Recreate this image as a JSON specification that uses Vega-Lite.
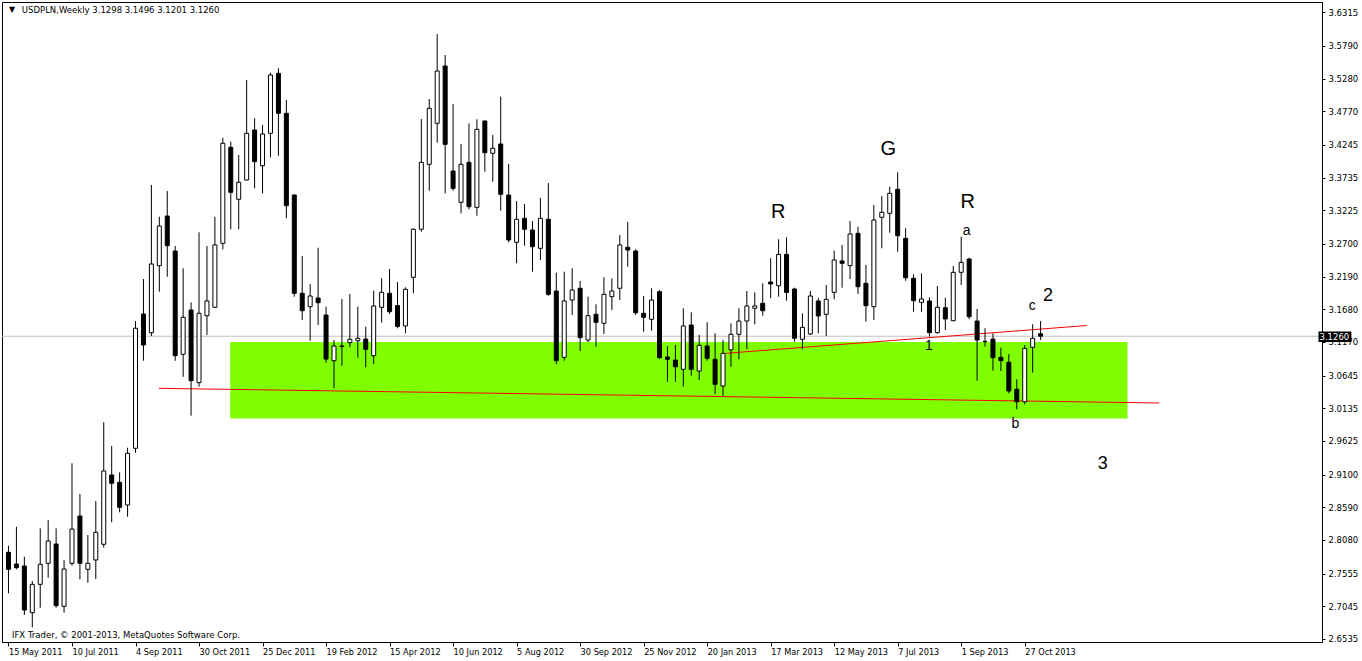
{
  "$schema": "https://vega.github.io/schema/vega-lite/v6.json",
  "width": 1320,
  "height": 640,
  "autosize": "none",
  "padding": {"left": 2, "top": 2, "right": 40, "bottom": 19},
  "background": "white",
  "config": {
    "view": {"stroke": "black", "strokeWidth": 1},
    "axis": {"labelFont": "DejaVu Sans", "labelFontSize": 8.5, "labelColor": "black", "tickColor": "black", "domainColor": "black", "grid": false, "labelOverlap": false, "labelBound": false, "labelFlush": false, "title": null},
    "axisX": {"labelAlign": "left", "labelBaseline": "top", "labelPadding": 2, "tickSize": 4, "labelFontSize": 8.2},
    "axisY": {"tickSize": 3, "labelPadding": 3}
  },
  "datasets": {
    "candles": [
      {"d":"2011-05-15","o":2.7888,"h":2.7991,"l":2.7248,"c":2.7622},
      {"d":"2011-05-22","o":2.7705,"h":2.8287,"l":2.7622,"c":2.7648},
      {"d":"2011-05-29","o":2.7674,"h":2.7819,"l":2.6909,"c":2.6987},
      {"d":"2011-06-05","o":2.6945,"h":2.7440,"l":2.6717,"c":2.7388},
      {"d":"2011-06-12","o":2.7388,"h":2.8262,"l":2.7023,"c":2.7701},
      {"d":"2011-06-19","o":2.7716,"h":2.8392,"l":2.7491,"c":2.8064},
      {"d":"2011-06-26","o":2.8017,"h":2.8262,"l":2.7023,"c":2.7055},
      {"d":"2011-07-03","o":2.7045,"h":2.7768,"l":2.6945,"c":2.7627},
      {"d":"2011-07-10","o":2.7716,"h":2.9277,"l":2.7679,"c":2.8251},
      {"d":"2011-07-17","o":2.8454,"h":2.8798,"l":2.7466,"c":2.7716},
      {"d":"2011-07-24","o":2.7622,"h":2.8158,"l":2.7414,"c":2.7716},
      {"d":"2011-07-31","o":2.7768,"h":2.8688,"l":2.7471,"c":2.8200},
      {"d":"2011-08-07","o":2.8013,"h":2.9917,"l":2.7960,"c":2.9157},
      {"d":"2011-08-14","o":2.9094,"h":2.9547,"l":2.8356,"c":2.8965},
      {"d":"2011-08-21","o":2.8980,"h":2.9136,"l":2.8512,"c":2.8590},
      {"d":"2011-08-28","o":2.8626,"h":2.9520,"l":2.8443,"c":2.9433},
      {"d":"2011-09-04","o":2.9511,"h":3.1497,"l":2.9442,"c":3.1384},
      {"d":"2011-09-11","o":3.1607,"h":3.2153,"l":3.0878,"c":3.1123},
      {"d":"2011-09-18","o":3.1315,"h":3.3620,"l":3.1263,"c":3.2387},
      {"d":"2011-09-25","o":3.2361,"h":3.3125,"l":3.1955,"c":3.2980},
      {"d":"2011-10-02","o":3.3136,"h":3.3526,"l":3.2189,"c":3.2673},
      {"d":"2011-10-09","o":3.2590,"h":3.2668,"l":3.0878,"c":3.0956},
      {"d":"2011-10-16","o":3.0978,"h":3.2320,"l":3.0628,"c":3.1555},
      {"d":"2011-10-23","o":3.1669,"h":3.1789,"l":3.0020,"c":3.0566},
      {"d":"2011-10-30","o":3.0535,"h":3.2882,"l":3.0472,"c":3.1618},
      {"d":"2011-11-06","o":3.1580,"h":3.2668,"l":3.1279,"c":3.1810},
      {"d":"2011-11-13","o":3.1711,"h":3.3125,"l":3.1700,"c":3.2684},
      {"d":"2011-11-20","o":3.2710,"h":3.4358,"l":3.2616,"c":3.4271},
      {"d":"2011-11-27","o":3.4208,"h":3.4296,"l":3.2929,"c":3.3506},
      {"d":"2011-12-04","o":3.3397,"h":3.4088,"l":3.2929,"c":3.3662},
      {"d":"2011-12-11","o":3.3698,"h":3.5259,"l":3.3690,"c":3.4427},
      {"d":"2011-12-18","o":3.4478,"h":3.4661,"l":3.3568,"c":3.3984},
      {"d":"2011-12-25","o":3.3921,"h":3.4556,"l":3.3490,"c":3.4416},
      {"d":"2012-01-01","o":3.4427,"h":3.5372,"l":3.4052,"c":3.5337},
      {"d":"2012-01-08","o":3.5363,"h":3.5441,"l":3.4077,"c":3.4739},
      {"d":"2012-01-15","o":3.4739,"h":3.4946,"l":3.3100,"c":3.3297},
      {"d":"2012-01-22","o":3.3464,"h":3.3470,"l":3.1877,"c":3.1930},
      {"d":"2012-01-29","o":3.1930,"h":3.2512,"l":3.1513,"c":3.1658},
      {"d":"2012-02-05","o":3.1721,"h":3.2075,"l":3.1190,"c":3.1888},
      {"d":"2012-02-12","o":3.1856,"h":3.2641,"l":3.1435,"c":3.1783},
      {"d":"2012-02-19","o":3.1591,"h":3.1721,"l":3.0847,"c":3.0904},
      {"d":"2012-02-26","o":3.0878,"h":3.1201,"l":3.0447,"c":3.1107},
      {"d":"2012-03-04","o":3.1100,"h":3.1841,"l":3.0800,"c":3.1107},
      {"d":"2012-03-11","o":3.1159,"h":3.1919,"l":3.1087,"c":3.1212},
      {"d":"2012-03-18","o":3.1190,"h":3.1721,"l":3.0925,"c":3.1227},
      {"d":"2012-03-25","o":3.1216,"h":3.1408,"l":3.0775,"c":3.1056},
      {"d":"2012-04-01","o":3.0956,"h":3.1970,"l":3.0826,"c":3.1732},
      {"d":"2012-04-08","o":3.1711,"h":3.2164,"l":3.1471,"c":3.1945},
      {"d":"2012-04-15","o":3.1930,"h":3.2309,"l":3.1607,"c":3.1643},
      {"d":"2012-04-22","o":3.1739,"h":3.2106,"l":3.1384,"c":3.1412},
      {"d":"2012-04-29","o":3.1420,"h":3.2023,"l":3.1305,"c":3.1992},
      {"d":"2012-05-06","o":3.2179,"h":3.2944,"l":3.1930,"c":3.2929},
      {"d":"2012-05-13","o":3.2929,"h":3.4650,"l":3.2891,"c":3.3974},
      {"d":"2012-05-20","o":3.3943,"h":3.4962,"l":3.3531,"c":3.4817},
      {"d":"2012-05-27","o":3.4583,"h":3.5976,"l":3.4280,"c":3.5399},
      {"d":"2012-06-03","o":3.5477,"h":3.5649,"l":3.3490,"c":3.4255},
      {"d":"2012-06-10","o":3.3838,"h":3.4884,"l":3.3531,"c":3.3568},
      {"d":"2012-06-17","o":3.3350,"h":3.4260,"l":3.3178,"c":3.3943},
      {"d":"2012-06-24","o":3.3974,"h":3.4583,"l":3.3241,"c":3.3281},
      {"d":"2012-07-01","o":3.3272,"h":3.4645,"l":3.3141,"c":3.4489},
      {"d":"2012-07-08","o":3.4619,"h":3.4625,"l":3.3827,"c":3.4124},
      {"d":"2012-07-15","o":3.4115,"h":3.4400,"l":3.3671,"c":3.4193},
      {"d":"2012-07-22","o":3.4260,"h":3.4998,"l":3.3219,"c":3.3475},
      {"d":"2012-07-29","o":3.3464,"h":3.3948,"l":3.2726,"c":3.2762},
      {"d":"2012-08-05","o":3.2726,"h":3.3370,"l":3.2398,"c":3.3085},
      {"d":"2012-08-12","o":3.3100,"h":3.3323,"l":3.2673,"c":3.2929},
      {"d":"2012-08-19","o":3.2918,"h":3.3058,"l":3.2267,"c":3.2657},
      {"d":"2012-08-26","o":3.2632,"h":3.3417,"l":3.2449,"c":3.3100},
      {"d":"2012-09-02","o":3.3085,"h":3.3651,"l":3.1890,"c":3.1914},
      {"d":"2012-09-09","o":3.1966,"h":3.2251,"l":3.0822,"c":3.0878},
      {"d":"2012-09-16","o":3.0931,"h":3.2267,"l":3.0878,"c":3.1810},
      {"d":"2012-09-23","o":3.1825,"h":3.2320,"l":3.1591,"c":3.1981},
      {"d":"2012-09-30","o":3.2008,"h":3.2122,"l":3.1029,"c":3.1237},
      {"d":"2012-10-07","o":3.1201,"h":3.1877,"l":3.1165,"c":3.1580},
      {"d":"2012-10-14","o":3.1602,"h":3.1758,"l":3.1097,"c":3.1477},
      {"d":"2012-10-21","o":3.1462,"h":3.2179,"l":3.1295,"c":3.1914},
      {"d":"2012-10-28","o":3.1877,"h":3.2164,"l":3.1669,"c":3.1966},
      {"d":"2012-11-04","o":3.2008,"h":3.2840,"l":3.1825,"c":3.2684},
      {"d":"2012-11-11","o":3.2648,"h":3.3042,"l":3.2345,"c":3.2606},
      {"d":"2012-11-18","o":3.2590,"h":3.2616,"l":3.1591,"c":3.1627},
      {"d":"2012-11-25","o":3.1618,"h":3.1888,"l":3.1330,"c":3.1555},
      {"d":"2012-12-02","o":3.1524,"h":3.2008,"l":3.1346,"c":3.1825},
      {"d":"2012-12-09","o":3.1955,"h":3.1981,"l":3.0904,"c":3.0925},
      {"d":"2012-12-16","o":3.0936,"h":3.1107,"l":3.0550,"c":3.0900},
      {"d":"2012-12-23","o":3.0889,"h":3.1123,"l":3.0550,"c":3.0784},
      {"d":"2012-12-30","o":3.0744,"h":3.1696,"l":3.0472,"c":3.1420},
      {"d":"2013-01-06","o":3.1435,"h":3.1633,"l":3.0644,"c":3.0744},
      {"d":"2013-01-13","o":3.0717,"h":3.1279,"l":3.0577,"c":3.1118},
      {"d":"2013-01-20","o":3.1107,"h":3.1477,"l":3.0878,"c":3.0915},
      {"d":"2013-01-27","o":3.0900,"h":3.1305,"l":3.0358,"c":3.0510},
      {"d":"2013-02-03","o":3.0483,"h":3.1201,"l":3.0332,"c":3.0993},
      {"d":"2013-02-10","o":3.1047,"h":3.1462,"l":3.0784,"c":3.1290},
      {"d":"2013-02-17","o":3.1290,"h":3.1696,"l":3.0900,"c":3.1497},
      {"d":"2013-02-24","o":3.1497,"h":3.1966,"l":3.1056,"c":3.1732},
      {"d":"2013-03-03","o":3.1696,"h":3.1945,"l":3.1446,"c":3.1732},
      {"d":"2013-03-10","o":3.1774,"h":3.2086,"l":3.1580,"c":3.1658},
      {"d":"2013-03-17","o":3.2106,"h":3.2476,"l":3.1852,"c":3.2075},
      {"d":"2013-03-24","o":3.2048,"h":3.2773,"l":3.1877,"c":3.2538},
      {"d":"2013-03-31","o":3.2538,"h":3.2804,"l":3.1814,"c":3.1942},
      {"d":"2013-04-07","o":3.1997,"h":3.2017,"l":3.1174,"c":3.1228},
      {"d":"2013-04-14","o":3.1212,"h":3.1618,"l":3.1056,"c":3.1399},
      {"d":"2013-04-21","o":3.1295,"h":3.1966,"l":3.1279,"c":3.1888},
      {"d":"2013-04-28","o":3.1810,"h":3.1861,"l":3.1305,"c":3.1576},
      {"d":"2013-05-05","o":3.1602,"h":3.2059,"l":3.1263,"c":3.1836},
      {"d":"2013-05-12","o":3.1945,"h":3.2595,"l":3.1836,"c":3.2449},
      {"d":"2013-05-19","o":3.2434,"h":3.2684,"l":3.2017,"c":3.2398},
      {"d":"2013-05-26","o":3.2361,"h":3.3058,"l":3.2153,"c":3.2855},
      {"d":"2013-06-02","o":3.2866,"h":3.2969,"l":3.1919,"c":3.2033},
      {"d":"2013-06-09","o":3.2086,"h":3.2371,"l":3.1486,"c":3.1736},
      {"d":"2013-06-16","o":3.1721,"h":3.3308,"l":3.1513,"c":3.3074},
      {"d":"2013-06-23","o":3.3116,"h":3.3448,"l":3.2632,"c":3.3194},
      {"d":"2013-06-30","o":3.3178,"h":3.3593,"l":3.2876,"c":3.3490},
      {"d":"2013-07-07","o":3.3553,"h":3.3818,"l":3.2579,"c":3.2829},
      {"d":"2013-07-14","o":3.2788,"h":3.2944,"l":3.2126,"c":3.2173},
      {"d":"2013-07-21","o":3.2164,"h":3.2226,"l":3.1643,"c":3.1814},
      {"d":"2013-07-28","o":3.1789,"h":3.2242,"l":3.1643,"c":3.1841},
      {"d":"2013-08-04","o":3.1810,"h":3.1867,"l":3.1253,"c":3.1315},
      {"d":"2013-08-11","o":3.1315,"h":3.2044,"l":3.1300,"c":3.1711},
      {"d":"2013-08-18","o":3.1705,"h":3.1861,"l":3.1357,"c":3.1529},
      {"d":"2013-08-25","o":3.1502,"h":3.2356,"l":3.1495,"c":3.2257},
      {"d":"2013-09-01","o":3.2257,"h":3.2813,"l":3.2059,"c":3.2413},
      {"d":"2013-09-08","o":3.2465,"h":3.2485,"l":3.1524,"c":3.1565},
      {"d":"2013-09-15","o":3.1497,"h":3.1685,"l":3.0566,"c":3.1201},
      {"d":"2013-09-22","o":3.1180,"h":3.1384,"l":3.1097,"c":3.1175},
      {"d":"2013-09-29","o":3.1216,"h":3.1305,"l":3.0722,"c":3.0925},
      {"d":"2013-10-06","o":3.0931,"h":3.1081,"l":3.0717,"c":3.0878},
      {"d":"2013-10-13","o":3.0853,"h":3.0983,"l":3.0369,"c":3.0405},
      {"d":"2013-10-20","o":3.0432,"h":3.0588,"l":3.0120,"c":3.0238},
      {"d":"2013-10-27","o":3.0238,"h":3.1123,"l":3.0198,"c":3.1071},
      {"d":"2013-11-03","o":3.1087,"h":3.1446,"l":3.0691,"c":3.1227},
      {"d":"2013-11-10","o":3.1298,"h":3.1496,"l":3.1201,"c":3.1260}
    ]
  },
  "layer": [
    {
      "data": {"values": [{"x1": "2011-11-26T12:00:00Z", "x2": "2014-01-25T14:00:00Z", "y1": 3.1170, "y2": 2.9976}]},
      "mark": {"type": "rect", "color": "#80ff00"},
      "encoding": {
        "x": {
          "field": "x1", "type": "temporal",
          "scale": {"type": "utc", "nice": false,
            "domain": [{"year": 2011, "month": 5, "date": 13, "hours": 16, "minutes": 48, "utc": true},
                       {"year": 2014, "month": 7, "date": 11, "hours": 16, "minutes": 48, "utc": true}]},
          "axis": {"title": null, "labelExpr": "utcFormat(datum.value, '%-d %b %Y')", "labelOverlap": false, "labelAlign": "left", "values": [{"year":2011,"month":5,"date":15,"utc":true},{"year":2011,"month":7,"date":10,"utc":true},{"year":2011,"month":9,"date":4,"utc":true},{"year":2011,"month":10,"date":30,"utc":true},{"year":2011,"month":12,"date":25,"utc":true},{"year":2012,"month":2,"date":19,"utc":true},{"year":2012,"month":4,"date":15,"utc":true},{"year":2012,"month":6,"date":10,"utc":true},{"year":2012,"month":8,"date":5,"utc":true},{"year":2012,"month":9,"date":30,"utc":true},{"year":2012,"month":11,"date":25,"utc":true},{"year":2013,"month":1,"date":20,"utc":true},{"year":2013,"month":3,"date":17,"utc":true},{"year":2013,"month":5,"date":12,"utc":true},{"year":2013,"month":7,"date":7,"utc":true},{"year":2013,"month":9,"date":1,"utc":true},{"year":2013,"month":10,"date":27,"utc":true}]}
        },
        "x2": {"field": "x2"},
        "y": {
          "field": "y1", "type": "quantitative",
          "scale": {"domain": [2.6488, 3.6476], "nice": false, "zero": false},
          "axis": {"title": null, "orient": "right", "format": ".4f", "labelOverlap": false, "values": [3.6315, 3.579, 3.528, 3.477, 3.4245, 3.3735, 3.3225, 3.27, 3.219, 3.168, 3.117, 3.0645, 3.0135, 2.9625, 2.91, 2.859, 2.808, 2.7555, 2.7045, 2.6535]}
        },
        "y2": {"field": "y2"}
      }
    },
    {
      "data": {"values": [{"p": 3.126}]},
      "mark": {"type": "rule", "color": "#c0c0c0", "strokeWidth": 1},
      "encoding": {
        "y": {"field": "p", "type": "quantitative",
          "axis": {"title": null, "orient": "right", "format": ".4f", "labelOverlap": false, "values": [3.6315, 3.579, 3.528, 3.477, 3.4245, 3.3735, 3.3225, 3.27, 3.219, 3.168, 3.117, 3.0645, 3.0135, 2.9625, 2.91, 2.859, 2.808, 2.7555, 2.7045, 2.6535]}}
      }
    },
    {
      "data": {"values": [
        {"xa": "2011-09-24T14:00:00Z", "ya": 3.0447, "xb": "2014-02-22T14:00:00Z", "yb": 3.0218},
        {"xa": "2013-02-05T05:00:00Z", "ya": 3.0993, "xb": "2013-12-20T17:00:00Z", "yb": 3.1427}
      ]},
      "mark": {"type": "rule", "color": "#ff0000", "strokeWidth": 1},
      "encoding": {
        "x": {"field": "xa", "type": "temporal",
          "axis": {"title": null, "labelExpr": "utcFormat(datum.value, '%-d %b %Y')", "labelOverlap": false, "labelAlign": "left", "values": [{"year":2011,"month":5,"date":15,"utc":true},{"year":2011,"month":7,"date":10,"utc":true},{"year":2011,"month":9,"date":4,"utc":true},{"year":2011,"month":10,"date":30,"utc":true},{"year":2011,"month":12,"date":25,"utc":true},{"year":2012,"month":2,"date":19,"utc":true},{"year":2012,"month":4,"date":15,"utc":true},{"year":2012,"month":6,"date":10,"utc":true},{"year":2012,"month":8,"date":5,"utc":true},{"year":2012,"month":9,"date":30,"utc":true},{"year":2012,"month":11,"date":25,"utc":true},{"year":2013,"month":1,"date":20,"utc":true},{"year":2013,"month":3,"date":17,"utc":true},{"year":2013,"month":5,"date":12,"utc":true},{"year":2013,"month":7,"date":7,"utc":true},{"year":2013,"month":9,"date":1,"utc":true},{"year":2013,"month":10,"date":27,"utc":true}]}},
        "x2": {"field": "xb"},
        "y": {"field": "ya", "type": "quantitative",
          "axis": {"title": null, "orient": "right", "format": ".4f", "labelOverlap": false, "values": [3.6315, 3.579, 3.528, 3.477, 3.4245, 3.3735, 3.3225, 3.27, 3.219, 3.168, 3.117, 3.0645, 3.0135, 2.9625, 2.91, 2.859, 2.808, 2.7555, 2.7045, 2.6535]}},
        "y2": {"field": "yb"}
      }
    },
    {
      "data": {"name": "candles"},
      "mark": {"type": "rule", "color": "black", "strokeWidth": 1},
      "encoding": {
        "x": {"field": "d", "type": "temporal",
          "axis": {"title": null, "labelExpr": "utcFormat(datum.value, '%-d %b %Y')", "labelOverlap": false, "labelAlign": "left", "values": [{"year":2011,"month":5,"date":15,"utc":true},{"year":2011,"month":7,"date":10,"utc":true},{"year":2011,"month":9,"date":4,"utc":true},{"year":2011,"month":10,"date":30,"utc":true},{"year":2011,"month":12,"date":25,"utc":true},{"year":2012,"month":2,"date":19,"utc":true},{"year":2012,"month":4,"date":15,"utc":true},{"year":2012,"month":6,"date":10,"utc":true},{"year":2012,"month":8,"date":5,"utc":true},{"year":2012,"month":9,"date":30,"utc":true},{"year":2012,"month":11,"date":25,"utc":true},{"year":2013,"month":1,"date":20,"utc":true},{"year":2013,"month":3,"date":17,"utc":true},{"year":2013,"month":5,"date":12,"utc":true},{"year":2013,"month":7,"date":7,"utc":true},{"year":2013,"month":9,"date":1,"utc":true},{"year":2013,"month":10,"date":27,"utc":true}]}},
        "y": {"field": "l", "type": "quantitative",
          "axis": {"title": null, "orient": "right", "format": ".4f", "labelOverlap": false, "values": [3.6315, 3.579, 3.528, 3.477, 3.4245, 3.3735, 3.3225, 3.27, 3.219, 3.168, 3.117, 3.0645, 3.0135, 2.9625, 2.91, 2.859, 2.808, 2.7555, 2.7045, 2.6535]}},
        "y2": {"field": "h"}
      }
    },
    {
      "data": {"name": "candles"},
      "mark": {"type": "bar", "width": 4, "stroke": "black", "strokeWidth": 1},
      "encoding": {
        "x": {"field": "d", "type": "temporal",
          "axis": {"title": null, "labelExpr": "utcFormat(datum.value, '%-d %b %Y')", "labelOverlap": false, "labelAlign": "left", "values": [{"year":2011,"month":5,"date":15,"utc":true},{"year":2011,"month":7,"date":10,"utc":true},{"year":2011,"month":9,"date":4,"utc":true},{"year":2011,"month":10,"date":30,"utc":true},{"year":2011,"month":12,"date":25,"utc":true},{"year":2012,"month":2,"date":19,"utc":true},{"year":2012,"month":4,"date":15,"utc":true},{"year":2012,"month":6,"date":10,"utc":true},{"year":2012,"month":8,"date":5,"utc":true},{"year":2012,"month":9,"date":30,"utc":true},{"year":2012,"month":11,"date":25,"utc":true},{"year":2013,"month":1,"date":20,"utc":true},{"year":2013,"month":3,"date":17,"utc":true},{"year":2013,"month":5,"date":12,"utc":true},{"year":2013,"month":7,"date":7,"utc":true},{"year":2013,"month":9,"date":1,"utc":true},{"year":2013,"month":10,"date":27,"utc":true}]}},
        "y": {"field": "o", "type": "quantitative",
          "axis": {"title": null, "orient": "right", "format": ".4f", "labelOverlap": false, "values": [3.6315, 3.579, 3.528, 3.477, 3.4245, 3.3735, 3.3225, 3.27, 3.219, 3.168, 3.117, 3.0645, 3.0135, 2.9625, 2.91, 2.859, 2.808, 2.7555, 2.7045, 2.6535]}},
        "y2": {"field": "c"},
        "fill": {"condition": {"test": "datum.c < datum.o", "value": "#000000"}, "value": "#ffffff"}
      }
    },
    {
      "data": {"values": [
        {"t": "R", "x": "2013-03-23T14:00:00Z", "y": 3.3199, "g": "big"},
        {"t": "G", "x": "2013-06-28T17:00:00Z", "y": 3.4182, "g": "big"},
        {"t": "R", "x": "2013-09-06T17:00:00Z", "y": 3.3355, "g": "big"},
        {"t": "2", "x": "2013-11-16T14:00:00Z", "y": 3.1888, "g": "mid"},
        {"t": "3", "x": "2014-01-03T17:00:00Z", "y": 2.9266, "g": "mid"},
        {"t": "a", "x": "2013-09-05T19:00:00Z", "y": 3.2902, "g": "small"},
        {"t": "c", "x": "2013-11-02T14:00:00Z", "y": 3.1732, "g": "small"},
        {"t": "1", "x": "2013-08-03T14:00:00Z", "y": 3.1107, "g": "small"},
        {"t": "b", "x": "2013-10-18T17:00:00Z", "y": 2.9890, "g": "small"}
      ]},
      "mark": {"type": "text", "font": "Liberation Sans", "color": "black", "align": "center", "baseline": "middle"},
      "encoding": {
        "x": {"field": "x", "type": "temporal",
          "axis": {"title": null, "labelExpr": "utcFormat(datum.value, '%-d %b %Y')", "labelOverlap": false, "labelAlign": "left", "values": [{"year":2011,"month":5,"date":15,"utc":true},{"year":2011,"month":7,"date":10,"utc":true},{"year":2011,"month":9,"date":4,"utc":true},{"year":2011,"month":10,"date":30,"utc":true},{"year":2011,"month":12,"date":25,"utc":true},{"year":2012,"month":2,"date":19,"utc":true},{"year":2012,"month":4,"date":15,"utc":true},{"year":2012,"month":6,"date":10,"utc":true},{"year":2012,"month":8,"date":5,"utc":true},{"year":2012,"month":9,"date":30,"utc":true},{"year":2012,"month":11,"date":25,"utc":true},{"year":2013,"month":1,"date":20,"utc":true},{"year":2013,"month":3,"date":17,"utc":true},{"year":2013,"month":5,"date":12,"utc":true},{"year":2013,"month":7,"date":7,"utc":true},{"year":2013,"month":9,"date":1,"utc":true},{"year":2013,"month":10,"date":27,"utc":true}]}},
        "y": {"field": "y", "type": "quantitative",
          "axis": {"title": null, "orient": "right", "format": ".4f", "labelOverlap": false, "values": [3.6315, 3.579, 3.528, 3.477, 3.4245, 3.3735, 3.3225, 3.27, 3.219, 3.168, 3.117, 3.0645, 3.0135, 2.9625, 2.91, 2.859, 2.808, 2.7555, 2.7045, 2.6535]}},
        "text": {"field": "t"},
        "size": {"field": "g", "type": "nominal", "legend": null, "scale": {"type": "ordinal", "domain": ["big", "mid", "small"], "range": [20, 18, 14]}}
      }
    },
    {
      "data": {"values": [
        {"t": "USDPLN,Weekly  3.1298 3.1496 3.1201 3.1260", "x": "2011-05-26T19:00:00Z", "y": 3.6351},
        {"t": "IFX Trader, © 2001-2013, MetaQuotes Software Corp.", "x": "2011-05-18T02:00:00Z", "y": 2.6597}
      ]},
      "mark": {"type": "text", "font": "DejaVu Sans", "fontSize": 8.5, "color": "black", "align": "left", "baseline": "middle"},
      "encoding": {
        "x": {"field": "x", "type": "temporal",
          "axis": {"title": null, "labelExpr": "utcFormat(datum.value, '%-d %b %Y')", "labelOverlap": false, "labelAlign": "left", "values": [{"year":2011,"month":5,"date":15,"utc":true},{"year":2011,"month":7,"date":10,"utc":true},{"year":2011,"month":9,"date":4,"utc":true},{"year":2011,"month":10,"date":30,"utc":true},{"year":2011,"month":12,"date":25,"utc":true},{"year":2012,"month":2,"date":19,"utc":true},{"year":2012,"month":4,"date":15,"utc":true},{"year":2012,"month":6,"date":10,"utc":true},{"year":2012,"month":8,"date":5,"utc":true},{"year":2012,"month":9,"date":30,"utc":true},{"year":2012,"month":11,"date":25,"utc":true},{"year":2013,"month":1,"date":20,"utc":true},{"year":2013,"month":3,"date":17,"utc":true},{"year":2013,"month":5,"date":12,"utc":true},{"year":2013,"month":7,"date":7,"utc":true},{"year":2013,"month":9,"date":1,"utc":true},{"year":2013,"month":10,"date":27,"utc":true}]}},
        "y": {"field": "y", "type": "quantitative",
          "axis": {"title": null, "orient": "right", "format": ".4f", "labelOverlap": false, "values": [3.6315, 3.579, 3.528, 3.477, 3.4245, 3.3735, 3.3225, 3.27, 3.219, 3.168, 3.117, 3.0645, 3.0135, 2.9625, 2.91, 2.859, 2.808, 2.7555, 2.7045, 2.6535]}},
        "text": {"field": "t"}
      }
    },
    {
      "data": {"values": [{"t": "▼", "x": "2011-05-15T10:30:00Z", "y": 3.6355}]},
      "mark": {"type": "text", "font": "DejaVu Sans", "fontSize": 8, "color": "black", "align": "left", "baseline": "middle"},
      "encoding": {
        "x": {"field": "x", "type": "temporal",
          "axis": {"title": null, "labelExpr": "utcFormat(datum.value, '%-d %b %Y')", "labelOverlap": false, "labelAlign": "left", "values": [{"year":2011,"month":5,"date":15,"utc":true},{"year":2011,"month":7,"date":10,"utc":true},{"year":2011,"month":9,"date":4,"utc":true},{"year":2011,"month":10,"date":30,"utc":true},{"year":2011,"month":12,"date":25,"utc":true},{"year":2012,"month":2,"date":19,"utc":true},{"year":2012,"month":4,"date":15,"utc":true},{"year":2012,"month":6,"date":10,"utc":true},{"year":2012,"month":8,"date":5,"utc":true},{"year":2012,"month":9,"date":30,"utc":true},{"year":2012,"month":11,"date":25,"utc":true},{"year":2013,"month":1,"date":20,"utc":true},{"year":2013,"month":3,"date":17,"utc":true},{"year":2013,"month":5,"date":12,"utc":true},{"year":2013,"month":7,"date":7,"utc":true},{"year":2013,"month":9,"date":1,"utc":true},{"year":2013,"month":10,"date":27,"utc":true}]}},
        "y": {"field": "y", "type": "quantitative",
          "axis": {"title": null, "orient": "right", "format": ".4f", "labelOverlap": false, "values": [3.6315, 3.579, 3.528, 3.477, 3.4245, 3.3735, 3.3225, 3.27, 3.219, 3.168, 3.117, 3.0645, 3.0135, 2.9625, 2.91, 2.859, 2.808, 2.7555, 2.7045, 2.6535]}},
        "text": {"field": "t"}
      }
    },
    {
      "data": {"values": [{"xa": "2014-07-13T00:00:00Z", "xb": "2014-08-11T00:00:00Z", "ya": 3.1335, "yb": 3.1170}]},
      "mark": {"type": "rect", "color": "black"},
      "encoding": {
        "x": {"field": "xa", "type": "temporal",
          "axis": {"title": null, "labelExpr": "utcFormat(datum.value, '%-d %b %Y')", "labelOverlap": false, "labelAlign": "left", "values": [{"year":2011,"month":5,"date":15,"utc":true},{"year":2011,"month":7,"date":10,"utc":true},{"year":2011,"month":9,"date":4,"utc":true},{"year":2011,"month":10,"date":30,"utc":true},{"year":2011,"month":12,"date":25,"utc":true},{"year":2012,"month":2,"date":19,"utc":true},{"year":2012,"month":4,"date":15,"utc":true},{"year":2012,"month":6,"date":10,"utc":true},{"year":2012,"month":8,"date":5,"utc":true},{"year":2012,"month":9,"date":30,"utc":true},{"year":2012,"month":11,"date":25,"utc":true},{"year":2013,"month":1,"date":20,"utc":true},{"year":2013,"month":3,"date":17,"utc":true},{"year":2013,"month":5,"date":12,"utc":true},{"year":2013,"month":7,"date":7,"utc":true},{"year":2013,"month":9,"date":1,"utc":true},{"year":2013,"month":10,"date":27,"utc":true}]}},
        "x2": {"field": "xb"},
        "y": {"field": "ya", "type": "quantitative",
          "axis": {"title": null, "orient": "right", "format": ".4f", "labelOverlap": false, "values": [3.6315, 3.579, 3.528, 3.477, 3.4245, 3.3735, 3.3225, 3.27, 3.219, 3.168, 3.117, 3.0645, 3.0135, 2.9625, 2.91, 2.859, 2.808, 2.7555, 2.7045, 2.6535]}},
        "y2": {"field": "yb"}
      }
    },
    {
      "data": {"values": [{"t": "3.1260", "x": "2014-07-27T00:00:00Z", "y": 3.1255}]},
      "mark": {"type": "text", "font": "DejaVu Sans", "fontSize": 8.5, "color": "white", "align": "center", "baseline": "middle"},
      "encoding": {
        "x": {"field": "x", "type": "temporal",
          "axis": {"title": null, "labelExpr": "utcFormat(datum.value, '%-d %b %Y')", "labelOverlap": false, "labelAlign": "left", "values": [{"year":2011,"month":5,"date":15,"utc":true},{"year":2011,"month":7,"date":10,"utc":true},{"year":2011,"month":9,"date":4,"utc":true},{"year":2011,"month":10,"date":30,"utc":true},{"year":2011,"month":12,"date":25,"utc":true},{"year":2012,"month":2,"date":19,"utc":true},{"year":2012,"month":4,"date":15,"utc":true},{"year":2012,"month":6,"date":10,"utc":true},{"year":2012,"month":8,"date":5,"utc":true},{"year":2012,"month":9,"date":30,"utc":true},{"year":2012,"month":11,"date":25,"utc":true},{"year":2013,"month":1,"date":20,"utc":true},{"year":2013,"month":3,"date":17,"utc":true},{"year":2013,"month":5,"date":12,"utc":true},{"year":2013,"month":7,"date":7,"utc":true},{"year":2013,"month":9,"date":1,"utc":true},{"year":2013,"month":10,"date":27,"utc":true}]}},
        "y": {"field": "y", "type": "quantitative",
          "axis": {"title": null, "orient": "right", "format": ".4f", "labelOverlap": false, "values": [3.6315, 3.579, 3.528, 3.477, 3.4245, 3.3735, 3.3225, 3.27, 3.219, 3.168, 3.117, 3.0645, 3.0135, 2.9625, 2.91, 2.859, 2.808, 2.7555, 2.7045, 2.6535]}},
        "text": {"field": "t"}
      }
    }
  ]
}
